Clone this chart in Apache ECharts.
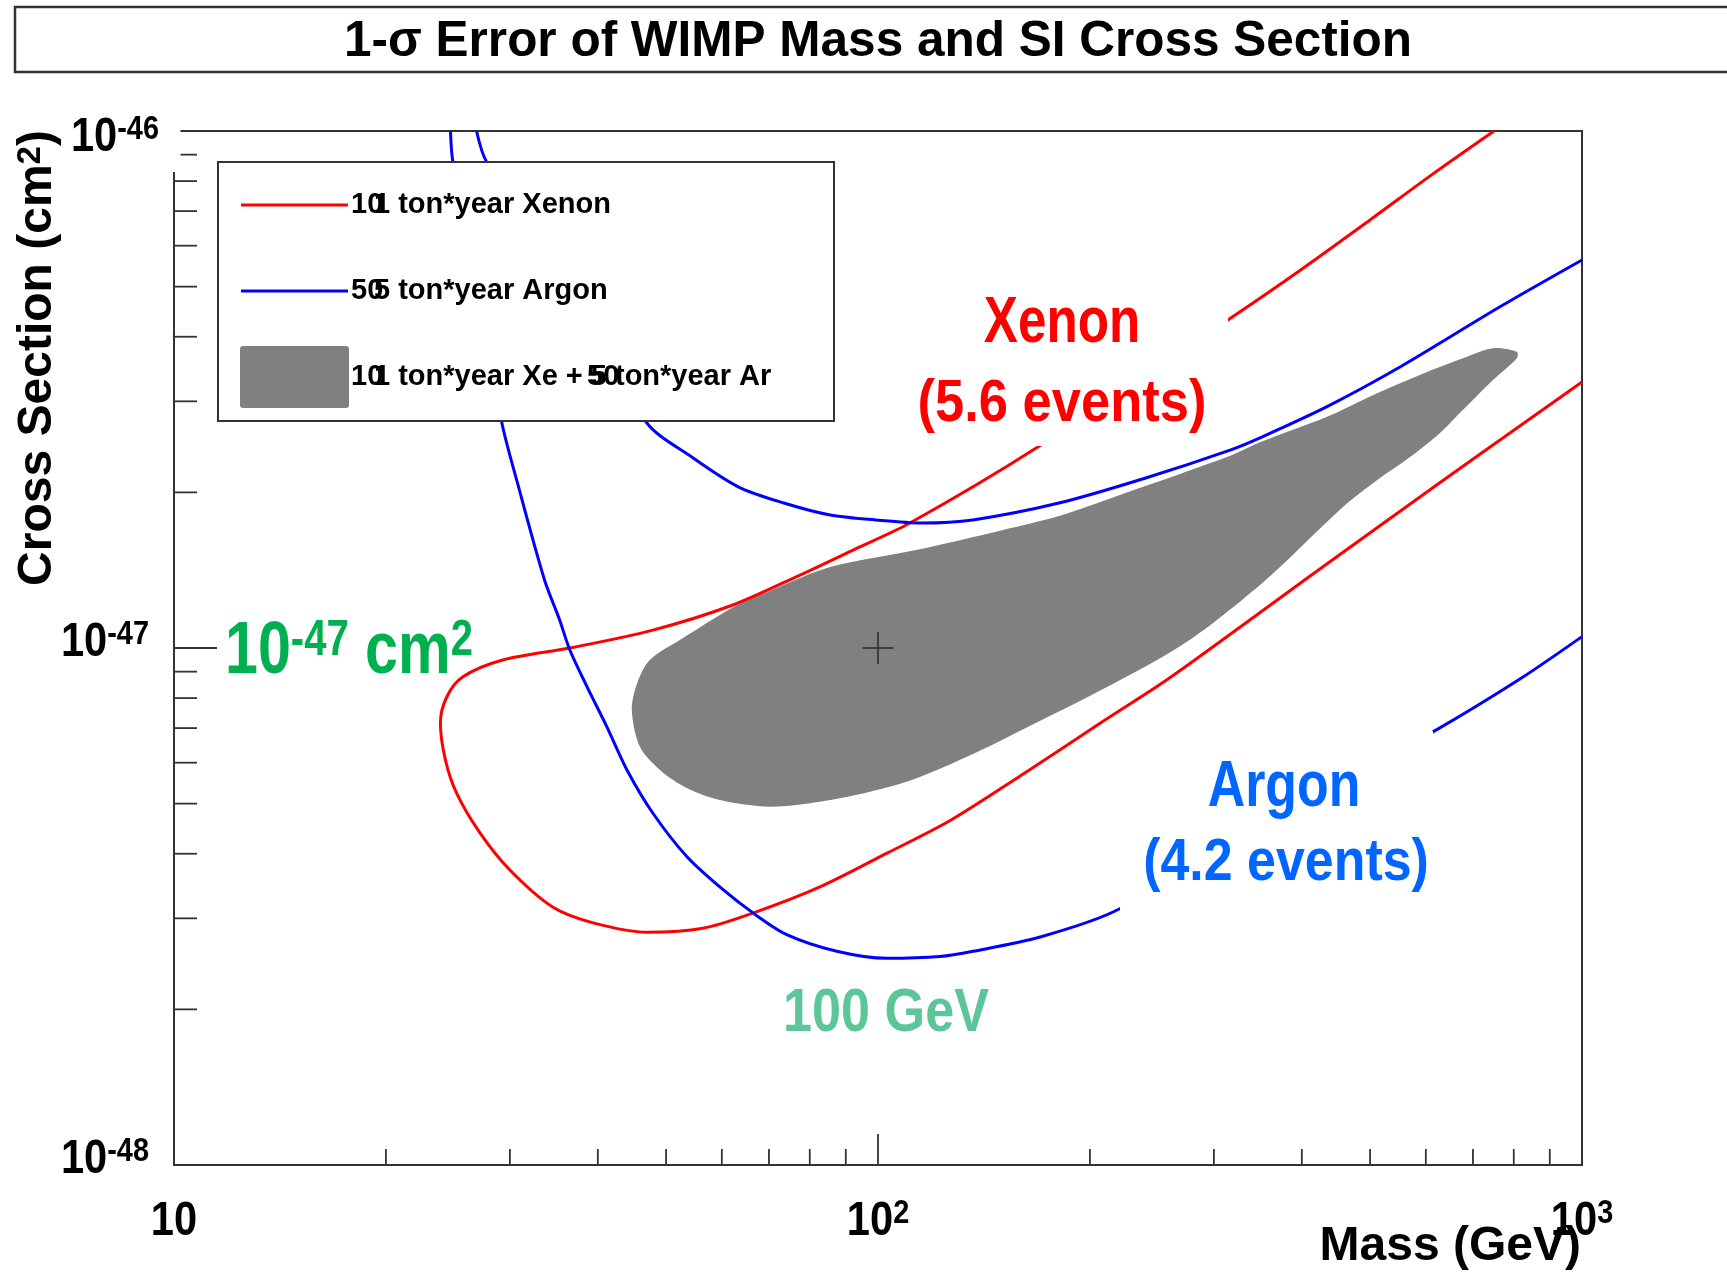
<!DOCTYPE html>
<html>
<head>
<meta charset="utf-8">
<script src="https://cdn.jsdelivr.net/npm/echarts@6/dist/echarts.min.js"></script>
<style>html,body{margin:0;padding:0;background:#fff}#c{width:1727px;height:1273px}</style>
</head>
<body>
<div id="c"></div>
<script>
// ---------------- data (mass in GeV, cross section in units of 1e-48 cm^2) ----------------
const xenonMass  = [750, 608, 500, 398, 314, 168, 111, 92.8, 77.5, 62.2, 47.9, 36.5, 29.3, 25.7, 24.4, 23.9, 24.3, 25.2, 27.2, 30.0, 34.5, 39.4, 47.0, 56.4, 66.4, 82.7, 103, 127, 159, 207, 257, 327, 411, 530, 716, 1000];
const xenonSigma = [100, 81.8, 67.3, 53.8, 43.1, 24.4, 17.45, 15.54, 13.84, 12.11, 10.83, 10.0, 9.48, 8.79, 8.04, 7.16, 6.07, 5.24, 4.39, 3.72, 3.155, 2.94, 2.82, 2.87, 3.07, 3.45, 4.01, 4.65, 5.65, 7.16, 8.67, 10.98, 13.78, 17.69, 23.7, 32.7];

const argonOuterMass  = [24.7, 24.9, 29.2, 30.8, 33.6, 35.3, 36.5, 38.6, 41.2, 44.0, 47.9, 53.5, 59.6, 66.5, 74.2, 87.4, 102.9, 122.5, 136.5, 169.9, 219.4, 615, 812, 1000];
const argonOuterSigma = [100, 87.1, 27.4, 20.7, 13.54, 11.33, 9.91, 8.42, 7.04, 5.81, 4.79, 3.95, 3.45, 3.07, 2.79, 2.59, 2.51, 2.53, 2.59, 2.76, 3.12, 6.89, 8.67, 10.52];

const argonInnerMass  = [26.9, 27.8, 46.8, 54.4, 63.3, 73.5, 85.5, 99.2, 115.3, 136.4, 180.7, 239.4, 317.8, 348.8, 434.3, 551.4, 764.7, 1000];
const argonInnerSigma = [100, 87.1, 27.4, 23.4, 20.5, 19.07, 18.08, 17.69, 17.45, 17.69, 19.07, 21.3, 24.2, 25.5, 29.3, 34.95, 45.7, 56.3];

const combinedMass  = [807.8, 747.4, 686.6, 602.4, 511.4, 434.3, 348.8, 317.8, 218.5, 180.7, 150.0, 113.2, 85.5, 70.7, 63.1, 52.3, 47.4, 45.5, 44.7, 45.9, 49.0, 53.5, 59.6, 70.2, 82.7, 97.4, 114.7, 150.0, 263.3, 348.8, 457.6, 511.4, 569.8, 628.5, 671.0, 747.4, 808.6];
const combinedSigma = [37.4, 38.0, 36.6, 34.2, 31.1, 28.0, 25.0, 23.6, 19.68, 18.0, 16.9, 15.47, 14.34, 12.95, 12.11, 10.36, 9.48, 8.56, 7.59, 6.44, 5.81, 5.36, 5.08, 4.93, 5.04, 5.27, 5.63, 6.64, 9.91, 13.24, 18.74, 21.1, 23.4, 26.05, 28.5, 33.0, 36.4];

const bestFit = [100, 10];

const massMin = 10, massMax = 1000;
const sigmaMin = 1, sigmaMax = 100;
const sigmaUnitExp = -48;

const massMajorTicks = [10, 100, 1000];
const massMinorTicks = [20, 30, 40, 50, 60, 70, 80, 90, 200, 300, 400, 500, 600, 700, 800, 900];
const sigmaMajorTicks = [10];
const sigmaMinorTicks = [2, 3, 4, 5, 6, 7, 8, 9, 20, 30, 40, 50, 60, 70, 80, 90];
const massLabelTicks = [10, 100, 1000];
const sigmaLabelTicks = [1, 10, 100];

// ---------------- chart ----------------
const FONT = '"Liberation Sans", Arial, Helvetica, sans-serif';
const pairs = (xs, ys) => xs.map((x, i) => [x, ys[i]]);
const AX = '#333';

const richTick = {
  b: { fontSize: 49, fontWeight: 'bold', fontFamily: FONT, fill: '#000' },
  s: { fontSize: 34, fontWeight: 'bold', fontFamily: FONT, fill: '#000', verticalAlign: 'top' }
};

const chart = echarts.init(document.getElementById('c'));

const tickSeries = (vals, isX, major) => ({
  type: 'custom', coordinateSystem: 'cartesian2d', silent: true, z: 6, clip: false,
  data: vals.map(v => isX ? [v, sigmaMin] : [massMin, v]),
  renderItem(params, api) {
    const p = api.coord([api.value(0), api.value(1)]);
    const len = isX ? (major ? 31 : 16) : (major ? 43 : 23);
    const shape = isX ? { x1: p[0], y1: p[1], x2: p[0], y2: p[1] - len }
                      : { x1: p[0], y1: p[1], x2: p[0] + len, y2: p[1] };
    return { type: 'line', shape, style: { stroke: AX, lineWidth: 1.8 } };
  }
});

const labelSeries = (vals, isX) => ({
  type: 'custom', coordinateSystem: 'cartesian2d', silent: true, z: 90, clip: false,
  data: vals.map(v => isX ? [v, sigmaMin] : [massMin, v]),
  renderItem(params, api) {
    const p = api.coord([api.value(0), api.value(1)]);
    if (isX) {
      const v = api.value(0);
      const e = Math.round(Math.log10(v));
      const text = e === 1 ? '{b|10}' : '{b|10}{s|' + e + '}';
      return { type: 'text', x: p[0], y: p[1] + 56, scaleX: 0.85, z2: 10,
        style: { text, rich: richTick, align: 'center', verticalAlign: 'middle' } };
    } else {
      const v = api.value(1);
      const e = Math.round(Math.log10(v)) + sigmaUnitExp;
      const top = v === sigmaMax;
      return { type: 'text', x: p[0] - (top ? 15 : 25), y: p[1] + (top ? 6 : -6), scaleX: 0.85, z2: 10,
        style: { text: '{b|10}{s|' + e + '}', rich: richTick, align: 'right', verticalAlign: 'middle' } };
    }
  }
});

const txt = (x, y, text, size, color, opts) => Object.assign({
  type: 'text', x, y, z: 80,
  style: Object.assign({ text, fill: color, font: 'bold ' + size + 'px ' + FONT, align: 'center', verticalAlign: 'middle' }, (opts && opts.style) || {})
}, opts && opts.el ? opts.el : {});

const option = {
  animation: false,
  backgroundColor: '#fff',
  grid: { left: 174, right: 145, top: 131, bottom: 108, show: true, borderColor: AX, borderWidth: 2, backgroundColor: 'transparent' },
  xAxis: { type: 'log', logBase: 10, min: massMin, max: massMax,
    axisLine: { show: false }, axisTick: { show: false }, axisLabel: { show: false }, splitLine: { show: false } },
  yAxis: { type: 'log', logBase: 10, min: sigmaMin, max: sigmaMax,
    axisLine: { show: false }, axisTick: { show: false }, axisLabel: { show: false }, splitLine: { show: false } },
  series: [
    { name: '10 ton*year Xe + 50 ton*year Ar', type: 'custom', coordinateSystem: 'cartesian2d', silent: true, z: 1,
      data: [bestFit],
      renderItem(params, api) {
        const pts = combinedMass.map((m, i) => api.coord([m, combinedSigma[i]]));
        return { type: 'polygon', shape: { points: pts, smooth: 0.3 }, style: { fill: '#808080' } };
      } },
    { name: '10 ton*year Xenon', type: 'line', data: pairs(xenonMass, xenonSigma), symbol: 'none', z: 3, smooth: 0.3,
      lineStyle: { color: '#ff0000', width: 3 }, clip: true },
    { name: '50 ton*year Argon', type: 'line', data: pairs(argonOuterMass, argonOuterSigma), symbol: 'none', z: 3, smooth: 0.3,
      lineStyle: { color: '#0000ff', width: 3 }, clip: true },
    { name: '50 ton*year Argon ', type: 'line', data: pairs(argonInnerMass, argonInnerSigma), symbol: 'none', z: 3, smooth: 0.3,
      lineStyle: { color: '#0000ff', width: 3 }, clip: true },
    { name: 'best fit', type: 'custom', coordinateSystem: 'cartesian2d', silent: true, z: 4,
      data: [bestFit],
      renderItem(params, api) {
        const p = api.coord([api.value(0), api.value(1)]);
        return { type: 'group', children: [
          { type: 'line', shape: { x1: p[0] - 15.5, y1: p[1], x2: p[0] + 15.5, y2: p[1] }, style: { stroke: '#222', lineWidth: 1.4 } },
          { type: 'line', shape: { x1: p[0], y1: p[1] - 16, x2: p[0], y2: p[1] + 16 }, style: { stroke: '#222', lineWidth: 1.4 } }
        ] };
      } },
    tickSeries(massMinorTicks, true, false),
    tickSeries(massMajorTicks, true, true),
    tickSeries(sigmaMinorTicks, false, false),
    tickSeries(sigmaMajorTicks, false, true),
    labelSeries(massLabelTicks, true),
    labelSeries(sigmaLabelTicks, false)
  ],
  graphic: { elements: [
    // title box
    { type: 'rect', z: 40, shape: { x: 15, y: 7, width: 1760, height: 65 }, style: { fill: '#fff', stroke: AX, lineWidth: 2.5 } },
    txt(878, 42, '1-σ Error of WIMP Mass and SI Cross Section', 49.5, '#000'),
    // white patches behind labels
    { type: 'rect', z: 50, shape: { x: 60, y: 96, width: 120.5, height: 76 }, style: { fill: '#fff' } },
    { type: 'rect', z: 50, shape: { x: 900, y: 285, width: 328, height: 161 }, style: { fill: '#fff' } },
    { type: 'rect', z: 50, shape: { x: 1120, y: 731, width: 313, height: 194 }, style: { fill: '#fff' } },
    // legend
    { type: 'rect', z: 60, shape: { x: 218, y: 162, width: 616, height: 259 }, style: { fill: '#fff', stroke: AX, lineWidth: 2 } },
    { type: 'line', z: 61, shape: { x1: 241, y1: 205, x2: 348, y2: 205 }, style: { stroke: '#ff0000', lineWidth: 3 } },
    { type: 'line', z: 61, shape: { x1: 241, y1: 291, x2: 348, y2: 291 }, style: { stroke: '#0000ff', lineWidth: 3 } },
    { type: 'rect', z: 61, shape: { x: 240, y: 346, width: 109, height: 62, r: 3 }, style: { fill: '#808080' } },
    txt(374, 205, '1 ton*year Xenon', 29, '#000', { style: { align: 'left' } }),
    txt(351, 205, '10', 29, '#000', { style: { align: 'left' } }),
    txt(374, 291, '5 ton*year Argon', 29, '#000', { style: { align: 'left' } }),
    txt(351, 291, '50', 29, '#000', { style: { align: 'left' } }),
    txt(374, 377, '1 ton*year Xe + 5 ton*year Ar', 29, '#000', { style: { align: 'left' } }),
    txt(351, 377, '10', 29, '#000', { style: { align: 'left' } }),
    txt(587, 377, '50', 29, '#000', { style: { align: 'left' } }),
    // axis titles
    { type: 'text', z: 80, x: 38, y: 358, rotation: Math.PI / 2,
      style: { text: '{n|Cross Section (cm}{s|2}{n|)}', align: 'center', verticalAlign: 'middle',
        rich: { n: { fontSize: 48, fontWeight: 'bold', fontFamily: FONT, fill: '#000' },
                s: { fontSize: 33, fontWeight: 'bold', fontFamily: FONT, fill: '#000', verticalAlign: 'top' } } } },
    txt(1581, 1247, 'Mass (GeV)', 48, '#000', { style: { align: 'right' } }),
    // annotations
    txt(1062, 324, 'Xenon', 64, '#ff0000', { el: { scaleX: 0.8 } }),
    txt(1062, 405, '(5.6 events)', 59, '#ff0000', { el: { scaleX: 0.89 } }),
    txt(1284, 788, 'Argon', 64, '#0066ff', { el: { scaleX: 0.81 } }),
    txt(1286, 864, '(4.2 events)', 59, '#0066ff', { el: { scaleX: 0.88 } }),
    txt(886, 1014, '100 GeV', 61, '#5cc69a', { el: { scaleX: 0.855 } }),
    { type: 'text', z: 80, x: 225, y: 653, scaleX: 0.8,
      style: { text: '{b|10}{s|-47}{b| cm}{s|2}', align: 'left', verticalAlign: 'middle',
        rich: { b: { fontSize: 74, fontWeight: 'bold', fontFamily: FONT, fill: '#00b050' },
                s: { fontSize: 50, fontWeight: 'bold', fontFamily: FONT, fill: '#00b050', verticalAlign: 'top' } } } }
  ] }
};
chart.setOption(option);
</script>
</body>
</html>
